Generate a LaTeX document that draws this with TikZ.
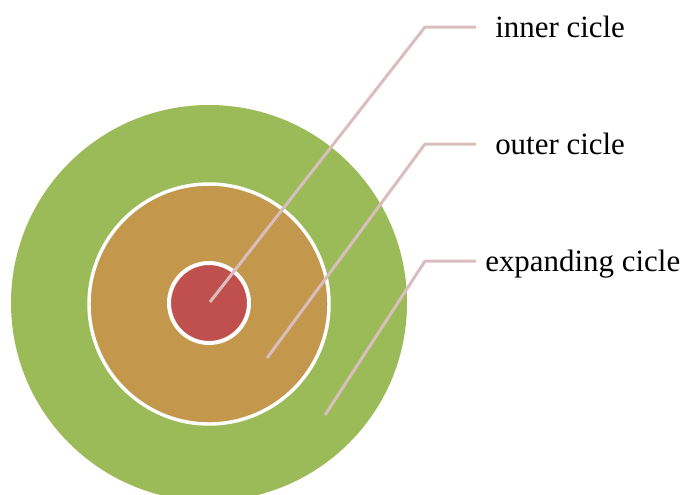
\documentclass[tikz,border=0pt]{standalone}
\usepackage{fontspec}
\setmainfont{Liberation Serif}
\usetikzlibrary{positioning}

\definecolor{ringgreen}{HTML}{9BBB59}
\definecolor{ringtan}{HTML}{C3974C}
\definecolor{ringred}{HTML}{C0504D}
\definecolor{leadpink}{RGB}{218,190,190}

\begin{document}
\begin{tikzpicture}[
				x=0.75pt, y=-0.75pt,
				% Define Node Styles
				ring/.style={circle, inner sep=0pt, outer sep=0pt},
				lbl/.style={anchor=west, font=\fontsize{23.2}{26}\selectfont, text height=18pt, text depth=2.5pt, inner ysep=0pt, inner xsep=14.25pt},
				% Define Leader Style
				leader/.style={line width=2.25pt, leadpink, line join=round}
				]
				\useasboundingbox (0,0) rectangle (685,494);
				
				% Circles
				\node[ring, fill=ringgreen, minimum size=297pt] (expanding) at (209,303) {};
				\node[ring, fill=ringtan, draw=white, line width=2.6pt, minimum size=180pt] (outer) at (209,304) {};
				\node[ring, fill=ringred, draw=white, line width=3pt, minimum size=60pt] (inner) at (209,303) {};
				
				% Pin points
				\coordinate (pinI) at (210,302);
				\coordinate (pinO) at (267,358);
				\coordinate (pinE) at (325,415);
				
				% Labels
				\node[lbl] (innerlbl) at (476,27) {inner cicle};
				\node[lbl] (outerlbl) at (476,144) {outer cicle};
				\node[lbl, inner xsep=6.75pt] (expandlbl) at (476,261) {expanding cicle};
				
				% Leader lines
				\draw[leader] (pinI) -- (425,27) -- (innerlbl.west);
				\draw[leader] (pinO) -- (425,144) -- (outerlbl.west);
				\draw[leader] (pinE) -- (425,261) -- (expandlbl.west);
				
			\end{tikzpicture}
\end{document}
